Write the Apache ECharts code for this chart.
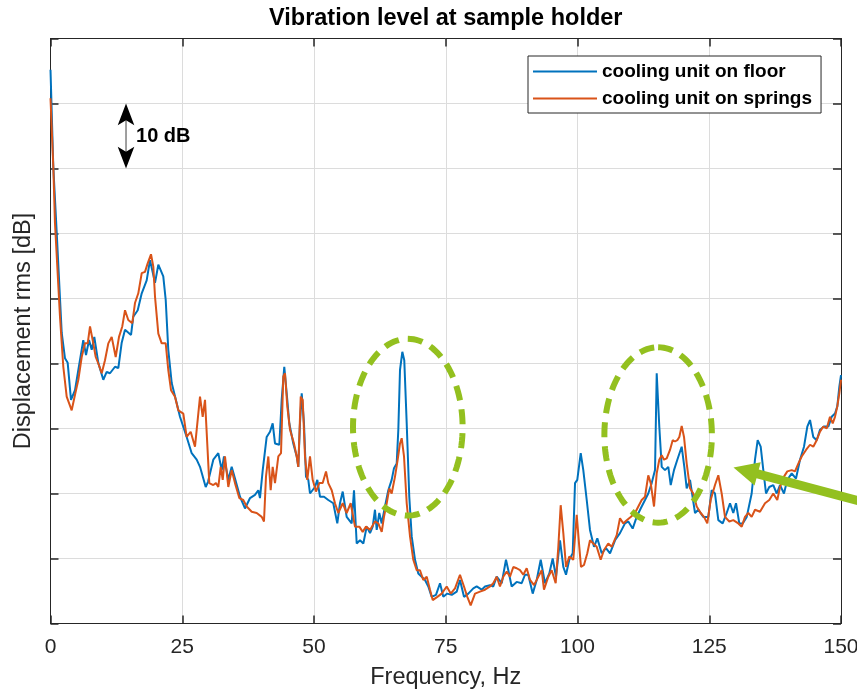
<!DOCTYPE html>
<html>
<head>
<meta charset="utf-8">
<title>Vibration level at sample holder</title>
<script src="https://cdn.jsdelivr.net/npm/echarts@6/dist/echarts.min.js"></script>
<style>
  html, body { margin: 0; padding: 0; background: #fff; }
  #main { width: 857px; height: 692px; }
</style>
</head>
<body>
<div id="main"></div>
<script>
// x ticks (Hz) and y range (dB, one grid step = 10 dB)
const xTicks = [0, 25, 50, 75, 100, 125, 150];
const yRange = [0, 90];

// cooling unit on floor
const blueHz = [0,0.53,1.18,2.13,2.75,3.26,3.89,4.65,5.28,6.22,6.74,7.31,7.82,8.31,9.07,10.02,10.66,11.29,12.24,12.87,13.51,14.14,15.28,15.71,16.55,17.31,18.25,18.88,19.83,20.46,21.40,21.86,22.35,23.0,23.95,24.57,25.84,26.79,27.74,28.37,29.45,29.89,30.89,31.84,32.49,32.92,33.74,34.38,35.01,35.96,36.91,37.86,38.80,39.43,39.75,40.27,41.02,41.65,42.16,42.60,43.42,43.87,44.36,44.93,45.31,46.07,46.72,47.02,47.34,47.67,48.10,48.48,48.92,49.24,50.19,50.63,51.14,51.90,52.71,53.66,54.42,54.93,55.45,56.20,57.15,57.59,58.10,58.73,59.36,60.0,60.63,61.14,61.57,61.90,62.39,62.85,63.47,64.10,64.74,65.18,65.69,66.0,66.32,66.76,67.13,67.59,68.08,68.54,69.17,69.79,70.44,71.06,71.69,72.33,73.15,73.91,74.54,75.29,76.13,77.08,77.70,78.46,79.28,80.23,80.87,81.82,82.45,83.40,84.02,84.67,85.62,86.43,86.87,87.51,88.46,89.41,90.04,90.66,91.50,92.26,93.02,93.83,94.65,95.29,95.92,96.68,97.31,97.82,98.44,99.09,99.53,99.96,100.61,101.10,101.75,102.37,103.13,103.76,104.59,105.41,106.17,107.12,108.06,109.01,109.64,110.47,111.23,111.99,112.81,113.43,114.08,114.71,115.03,115.52,115.98,116.60,117.23,117.69,118.31,118.94,119.77,120.27,120.72,121.35,122.30,122.92,123.87,124.82,125.46,126.09,126.72,127.55,128.31,128.94,129.56,130.08,130.70,131.35,132.11,133.05,133.68,134.19,134.76,135.26,135.77,136.39,137.15,137.80,138.43,139.18,139.81,140.65,141.46,142.22,142.98,143.61,144.12,144.74,145.39,146.01,146.77,147.59,148.23,148.86,149.30,149.68,150];
const blueDb = [85.2,70.3,60.1,44.7,40.8,40.1,34.4,35.9,39.0,43.6,41.3,43.6,42.1,44.1,40.1,37.5,38.7,38.5,39.5,39.3,43.2,45.2,44.4,47.2,48.2,50.8,52.8,55.9,52.4,55.2,53.4,49.8,42.1,37.0,33.9,31.8,28.7,26.2,25.2,24.1,21.0,21.8,25.2,26.2,23.6,25.7,22.1,24.1,22.3,19.5,17.7,19.3,19.8,20.5,19.3,23.6,28.7,29.5,30.8,27.7,27.5,34.4,39.5,34.4,30.8,27.7,25.7,24.1,30.8,35.4,30.8,22.6,22.1,20.0,21.0,22.1,19.5,19.5,19.0,18.5,15.4,18.5,20.3,16.4,15.4,20.5,12.3,12.8,12.3,14.9,13.9,14.9,17.5,14.4,17.0,15.4,18.0,20.5,22.1,23.9,24.6,29.8,39.0,41.8,40.5,30.8,19.5,13.4,9.8,7.7,7.2,6.7,5.7,4.1,4.4,6.2,4.1,4.6,4.4,4.9,6.7,4.1,4.6,5.4,5.7,5.2,5.7,5.9,5.7,7.2,6.2,9.8,8.2,5.7,6.4,6.2,7.5,7.5,4.6,6.7,9.8,6.2,7.7,10.0,7.2,12.8,8.7,7.5,9.8,10.8,21.6,22.1,26.2,23.6,19.0,14.4,11.8,13.1,10.8,11.6,10.8,12.8,13.9,15.4,15.7,14.6,16.4,17.7,19.0,20.0,21.6,23.6,38.5,30.3,24.1,23.6,24.1,21.3,23.6,25.2,27.2,24.1,20.8,22.1,17.0,17.5,16.4,16.4,20.5,20.0,15.9,15.4,17.0,18.5,17.0,18.5,15.4,15.4,16.4,20.0,25.2,28.2,27.2,23.6,20.0,21.0,21.3,20.0,21.3,20.0,22.1,23.1,22.3,25.2,27.2,30.3,31.3,28.7,28.2,29.8,30.3,30.3,31.8,32.3,33.4,36.4,38.2];

// cooling unit on springs
const orangeHz = [0,0.53,0.85,1.80,2.43,3.07,4.02,4.65,5.28,5.92,6.55,7.06,7.50,8.12,8.58,9.07,9.72,10.34,10.97,11.61,12.37,13.0,13.62,14.14,14.76,15.52,16.03,16.66,17.31,17.93,18.44,19.07,19.51,19.83,20.46,21.10,21.86,22.35,22.87,23.62,24.25,25.20,25.84,26.60,27.42,28.37,28.88,29.32,30.13,30.89,31.40,31.84,32.30,32.68,33.11,33.74,34.38,35.01,35.83,36.58,37.23,38.18,39.13,40.08,40.51,40.89,41.33,41.78,42.16,42.60,43.23,43.74,44.17,44.50,44.93,45.45,46.20,46.72,47.02,47.48,47.86,48.29,48.73,49.24,49.75,50.38,51.01,51.65,52.28,52.71,53.36,53.98,54.61,55.45,56.20,56.96,57.78,58.60,59.24,59.87,60.63,60.95,61.57,62.20,62.85,63.28,63.80,64.29,64.74,65.37,65.88,66.32,66.64,67.08,67.59,68.22,68.84,69.49,70.11,70.74,71.39,72.01,72.52,73.40,74.23,75.18,75.94,76.76,77.70,78.46,79.09,79.73,80.55,81.50,82.45,83.40,84.02,84.67,85.29,85.92,86.57,87.19,87.82,88.46,89.09,89.72,90.36,90.99,91.75,92.56,93.21,93.64,94.46,95.10,95.86,96.36,96.81,97.31,97.82,98.44,99.20,99.85,100.34,100.66,101.23,101.86,102.37,103.0,103.64,104.40,105.03,105.84,106.49,107.44,108.06,108.69,109.34,110.09,110.91,111.54,112.18,112.81,113.43,113.89,114.52,115.03,115.52,115.98,116.41,116.93,117.55,118.06,118.50,118.94,119.32,119.77,120.21,120.72,121.35,121.97,122.62,123.38,124.0,124.63,125.27,126.09,126.72,127.36,127.99,128.80,129.56,130.51,131.16,131.78,132.41,133.05,133.68,134.63,135.58,136.39,137.15,137.91,138.43,139.18,139.81,140.65,141.27,141.90,142.54,143.36,144.12,144.74,145.39,146.01,146.64,147.29,147.91,148.43,148.86,149.30,149.68,150];
const orangeDb = [80.8,70.3,61.6,47.2,39.5,34.9,32.8,35.2,37.5,41.0,43.1,43.1,45.7,43.1,41.0,40.0,38.5,40.5,43.1,44.1,41.0,44.1,45.7,48.2,46.7,46.2,49.3,50.8,53.9,54.1,55.4,56.8,54.9,50.3,44.6,43.1,43.1,39.0,35.9,34.9,32.8,32.3,28.7,29.5,27.2,34.9,31.8,34.4,21.6,21.3,21.6,21.0,24.1,22.1,25.7,21.0,23.6,21.6,19.3,19.0,18.0,17.2,17.0,16.4,15.7,22.6,25.7,20.5,24.1,21.6,25.7,26.2,38.0,38.5,33.4,29.8,27.7,25.7,24.1,34.9,34.4,25.7,22.1,25.7,22.1,20.3,21.6,21.6,23.4,21.6,20.5,18.5,17.0,18.5,17.0,18.5,14.9,14.9,14.1,14.9,14.4,14.4,15.7,15.4,14.1,16.4,18.5,20.8,20.0,22.6,25.2,27.7,28.5,25.7,18.5,13.4,9.8,8.2,8.2,6.7,7.2,5.2,3.6,4.1,4.6,5.7,4.6,5.4,7.5,5.7,4.1,2.8,4.6,4.9,5.2,5.7,6.2,7.2,5.7,7.2,8.0,7.2,8.7,8.5,8.2,7.5,8.5,6.7,5.9,7.2,8.2,5.2,7.2,8.2,6.2,11.8,18.2,13.9,8.7,10.3,9.8,16.7,11.8,8.7,9.0,10.8,12.8,12.3,11.8,9.8,11.3,12.3,11.8,13.6,16.2,15.4,15.9,16.4,17.0,18.0,19.0,19.5,22.8,21.6,18.0,23.1,25.2,25.9,25.2,25.4,26.7,28.2,28.0,28.2,28.7,30.4,28.7,24.6,20.8,20.0,18.0,17.0,16.4,15.4,19.0,21.3,22.8,20.0,16.4,15.7,15.9,15.4,14.9,16.4,17.0,16.4,17.5,17.2,18.5,19.0,20.0,19.0,21.0,22.6,23.4,23.6,23.4,24.6,25.7,26.7,27.5,27.2,28.2,29.5,30.3,30.0,31.8,30.8,31.8,33.4,35.4,37.5];

const seriesNames = ['cooling unit on floor', 'cooling unit on springs'];

// annotations, in data units
const scaleMark = { hz: 14.33, low: 70, high: 80, label: '10 dB' };
const rings = [
  { hz: 67.8, db: 30.2, rHz: 10.4, rDb: 13.6 },
  { hz: 115.3, db: 29.0, rHz: 10.2, rDb: 13.5 }
];
const pointer = { tipHz: 129.6, tipDb: 24.0, tailHz: 155.5, tailDb: 18.4 };

function zip(xs, ys) {
  const out = [];
  for (let i = 0; i < Math.min(xs.length, ys.length); i++) out.push([xs[i], ys[i]]);
  return out;
}

const axisColor = '#262626';
const font = '"Liberation Sans", Arial, Helvetica, sans-serif';
const green = '#93c01f';

const option = {
  animation: false,
  backgroundColor: '#fff',
  textStyle: { fontFamily: font },
  grid: { left: 50.5, right: 16, top: 38.5, bottom: 68.5, containLabel: false, outerBoundsMode: 'none' },
  legend: {
    data: seriesNames,
    orient: 'vertical',
    left: 528,
    top: 56,
    icon: 'rect',
    itemWidth: 64,
    itemHeight: 2,
    itemGap: 8,
    padding: [6, 9, 5, 5],
    borderColor: axisColor,
    borderWidth: 1,
    backgroundColor: '#fff',
    textStyle: { fontSize: 19, fontWeight: 'bold', color: '#000', fontFamily: font }
  },
  xAxis: [
    {
      type: 'value', min: xTicks[0], max: xTicks[xTicks.length - 1], interval: 25, position: 'bottom',
      name: 'Frequency, Hz', nameLocation: 'middle', nameGap: 42,
      nameTextStyle: { fontSize: 23.5, color: axisColor },
      axisLine: { show: true, onZero: false, lineStyle: { color: axisColor, width: 1 } },
      axisTick: { show: true, inside: true, length: 8, lineStyle: { color: axisColor, width: 1.5 } },
      axisLabel: { fontSize: 21, color: axisColor, margin: 13 },
      splitLine: { show: true, lineStyle: { color: '#dcdcdc', width: 1 } }
    },
    {
      type: 'value', min: xTicks[0], max: xTicks[xTicks.length - 1], interval: 25, position: 'top',
      axisLine: { show: true, onZero: false, lineStyle: { color: axisColor, width: 1 } },
      axisTick: { show: true, inside: true, length: 8, lineStyle: { color: axisColor, width: 1.5 } },
      axisLabel: { show: false },
      splitLine: { show: false }
    }
  ],
  yAxis: [
    {
      type: 'value', min: yRange[0], max: yRange[1], interval: 10, position: 'left',
      name: 'Displacement rms [dB]', nameLocation: 'middle', nameGap: 15, nameRotate: 90,
      nameTextStyle: { fontSize: 23.5, color: axisColor },
      axisLine: { show: true, onZero: false, lineStyle: { color: axisColor, width: 1 } },
      axisTick: { show: true, inside: true, length: 8, lineStyle: { color: axisColor, width: 1.5 } },
      axisLabel: { show: false },
      splitLine: { show: true, lineStyle: { color: '#dcdcdc', width: 1 } }
    },
    {
      type: 'value', min: yRange[0], max: yRange[1], interval: 10, position: 'right',
      axisLine: { show: true, onZero: false, lineStyle: { color: axisColor, width: 1 } },
      axisTick: { show: true, inside: true, length: 8, lineStyle: { color: axisColor, width: 1.5 } },
      axisLabel: { show: false },
      splitLine: { show: false }
    }
  ],
  series: [
    {
      name: seriesNames[0], type: 'line', data: zip(blueHz, blueDb),
      showSymbol: false, symbol: 'none',
      lineStyle: { color: '#0072BD', width: 2 }, itemStyle: { color: '#0072BD' }
    },
    {
      name: seriesNames[1], type: 'line', data: zip(orangeHz, orangeDb),
      showSymbol: false, symbol: 'none',
      lineStyle: { color: '#D95319', width: 2 }, itemStyle: { color: '#D95319' }
    }
  ]
};

const chart = echarts.init(document.getElementById('main'));
chart.setOption(option);

const toPx = (hz, db) => chart.convertToPixel({ xAxisIndex: 0, yAxisIndex: 0 }, [hz, db]);
const graphics = [];

// title, centred over the plot area
const mid = toPx(75, yRange[1]);
graphics.push({
  type: 'text', z: 100, x: mid[0], y: 19,
  style: { text: 'Vibration level at sample holder', font: 'bold 23.5px ' + font, fill: '#000',
           align: 'center', verticalAlign: 'middle', textAlign: 'center', textVerticalAlign: 'middle' }
});

// 10 dB scale arrow
const arrowTop = toPx(scaleMark.hz, scaleMark.high);
const arrowBot = toPx(scaleMark.hz, scaleMark.low);
const ax = arrowTop[0];
graphics.push({ type: 'line', z: 100, shape: { x1: ax, y1: arrowTop[1] + 12, x2: ax, y2: arrowBot[1] - 12 },
  style: { stroke: '#7f7f7f', lineWidth: 1.5 } });
graphics.push({ type: 'polygon', z: 101,
  shape: { points: [[ax, arrowTop[1]], [ax - 8.3, arrowTop[1] + 21.7], [ax, arrowTop[1] + 16.7], [ax + 8.3, arrowTop[1] + 21.7]] },
  style: { fill: '#000' } });
graphics.push({ type: 'polygon', z: 101,
  shape: { points: [[ax, arrowBot[1]], [ax - 8.3, arrowBot[1] - 21.7], [ax, arrowBot[1] - 16.7], [ax + 8.3, arrowBot[1] - 21.7]] },
  style: { fill: '#000' } });
graphics.push({ type: 'text', z: 101, x: ax + 10, y: (arrowTop[1] + arrowBot[1]) / 2,
  style: { text: scaleMark.label, font: 'bold 20px ' + font, fill: '#000',
           align: 'left', verticalAlign: 'middle', textAlign: 'left', textVerticalAlign: 'middle' } });

// dashed green ellipses
rings.forEach(function (r) {
  const c = toPx(r.hz, r.db);
  const e = toPx(r.hz + r.rHz, r.db + r.rDb);
  const rx = e[0] - c[0], ry = c[1] - e[1];
  const pts = [];
  for (let i = 0; i <= 120; i++) {
    const t = -Math.PI / 2 + i / 120 * Math.PI * 2;
    pts.push([c[0] + rx * Math.cos(t), c[1] + ry * Math.sin(t)]);
  }
  graphics.push({ type: 'polyline', z: 100, shape: { points: pts },
    style: { stroke: green, lineWidth: 6, lineDash: [15, 9], fill: null } });
});

// green pointer arrow
const tip = toPx(pointer.tipHz, pointer.tipDb);
const tail = toPx(pointer.tailHz, pointer.tailDb);
const dx = tail[0] - tip[0], dy = tail[1] - tip[1];
const len = Math.sqrt(dx * dx + dy * dy);
const ux = dx / len, uy = dy / len;
const headLen = 25, headHalf = 12;
const bx = tip[0] + ux * headLen, by = tip[1] + uy * headLen;
graphics.push({ type: 'line', z: 100, shape: { x1: bx - ux * 2, y1: by - uy * 2, x2: tail[0], y2: tail[1] },
  style: { stroke: green, lineWidth: 9 } });
graphics.push({ type: 'polygon', z: 100,
  shape: { points: [[tip[0], tip[1]], [bx - uy * headHalf, by + ux * headHalf], [bx + uy * headHalf, by - ux * headHalf]] },
  style: { fill: green } });

chart.setOption({ graphic: { elements: graphics } });
</script>
</body>
</html>
